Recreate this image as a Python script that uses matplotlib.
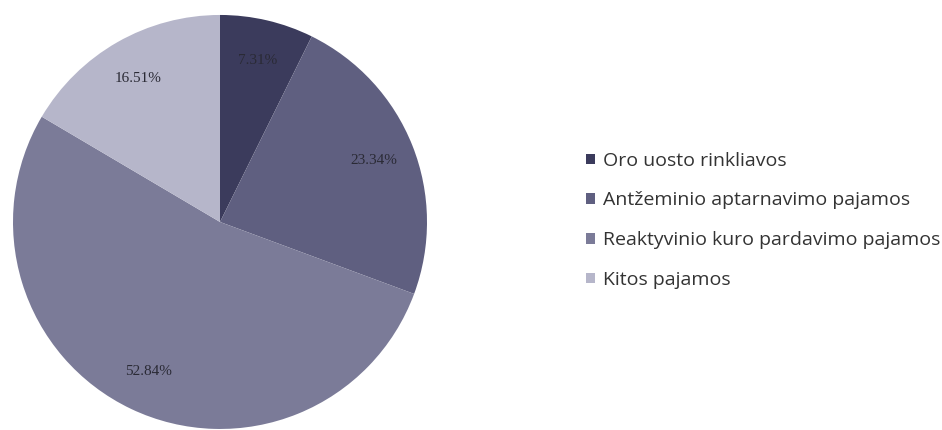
import matplotlib as mpl
mpl.use('Agg')
import matplotlib.pyplot as plt
from matplotlib.patches import Patch

# data
labels = ['Oro uosto rinkliavos',
          'Antžeminio aptarnavimo pajamos',
          'Reaktyvinio kuro pardavimo pajamos',
          'Kitos pajamos']
shares = [7.31, 23.34, 52.84, 16.51]
colors = ['#3b3b5c', '#5f5f80', '#7b7b98', '#b6b6ca']

fig = plt.figure(figsize=(9.42, 4.30), dpi=100)
ax = fig.add_axes([0.0138, 0.0023, 0.4395, 0.963])

wedges, texts, autotexts = ax.pie(
    shares, colors=colors, startangle=90, counterclock=False,
    autopct='%.2f%%', pctdistance=0.8,
    textprops={'family': 'Liberation Serif', 'fontsize': 11, 'color': '#2a2a35'})
ax.set_xlim(-1, 1)
ax.set_ylim(-1, 1)
ax.set_aspect('equal')

# legend on the right
handles = [Patch(facecolor=c, edgecolor='none') for c in colors]
fig.legend(handles, labels, loc='upper left', bbox_to_anchor=(0.604, 0.688),
           frameon=False, prop={'family': 'Open Sans', 'size': 14},
           handlelength=0.45, handleheight=0.45, handletextpad=0.4,
           labelspacing=1.12, labelcolor='#333333')

fig.savefig('out.png', dpi=100)
